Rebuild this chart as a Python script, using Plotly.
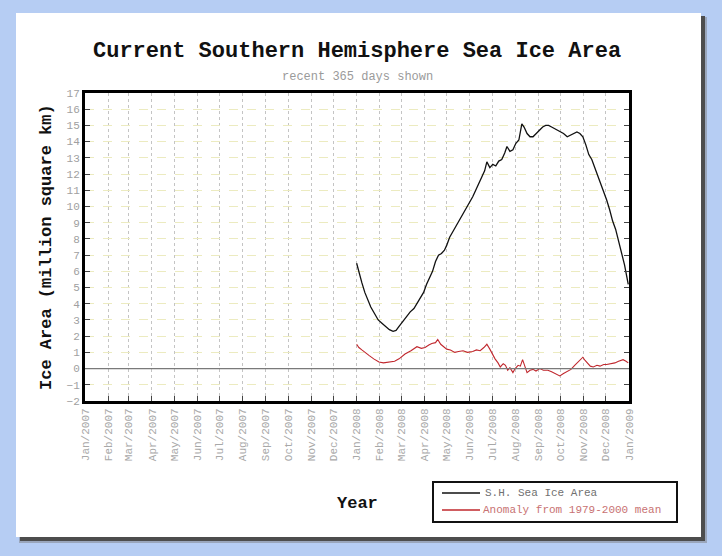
import plotly.graph_objects as go

# ---------------- data ----------------
ice_dates = ["2008-01-01", "2008-01-04", "2008-01-08", "2008-01-12", "2008-01-16", "2008-01-20",
             "2008-01-25", "2008-01-30", "2008-02-04", "2008-02-09", "2008-02-14", "2008-02-19",
             "2008-02-23", "2008-02-27", "2008-03-03", "2008-03-08", "2008-03-13", "2008-03-18",
             "2008-03-22", "2008-03-26", "2008-03-31", "2008-04-04", "2008-04-08", "2008-04-12",
             "2008-04-16", "2008-04-20", "2008-04-24", "2008-04-28", "2008-05-01", "2008-05-05",
             "2008-05-10", "2008-05-15", "2008-05-19", "2008-05-24", "2008-05-28", "2008-06-01",
             "2008-06-05", "2008-06-09", "2008-06-13", "2008-06-17", "2008-06-21", "2008-06-24",
             "2008-06-28", "2008-07-02", "2008-07-06", "2008-07-10", "2008-07-14", "2008-07-18",
             "2008-07-21", "2008-07-25", "2008-07-29", "2008-08-02", "2008-08-06", "2008-08-10",
             "2008-08-13", "2008-08-17", "2008-08-21", "2008-08-25", "2008-08-29", "2008-09-02",
             "2008-09-07", "2008-09-11", "2008-09-15", "2008-09-19", "2008-09-23", "2008-09-27",
             "2008-10-01", "2008-10-05", "2008-10-10", "2008-10-14", "2008-10-18", "2008-10-23",
             "2008-10-27", "2008-10-31", "2008-11-04", "2008-11-08", "2008-11-12", "2008-11-16",
             "2008-11-20", "2008-11-24", "2008-11-28", "2008-12-02", "2008-12-06", "2008-12-10",
             "2008-12-14", "2008-12-18", "2008-12-22", "2008-12-26", "2008-12-31"]
ice_area = [6.5, 5.9, 5.3, 4.7, 4.2, 3.8,
            3.4, 3.0, 2.8, 2.6, 2.4, 2.3,
            2.35, 2.6, 2.9, 3.2, 3.5, 3.7,
            4.0, 4.3, 4.7, 5.2, 5.6, 6.0,
            6.6, 7.0, 7.1, 7.3, 7.6, 8.1,
            8.5, 8.9, 9.2, 9.6, 9.9, 10.2,
            10.6, 11.0, 11.4, 11.7, 12.2, 12.75,
            12.4, 12.6, 12.5, 12.8, 12.9, 13.3,
            13.7, 13.4, 13.5, 13.9, 14.1, 15.1,
            14.9, 14.5, 14.3, 14.3, 14.5, 14.7,
            14.9, 15.0, 15.0, 14.9, 14.8, 14.7,
            14.6, 14.5, 14.3, 14.4, 14.5, 14.6,
            14.5, 14.3, 13.8, 13.2, 12.9, 12.4,
            11.9, 11.4, 11.0, 10.4, 9.8, 9.1,
            8.6, 7.9, 7.2, 6.4, 5.2]

anom_dates = ["2008-01-01", "2008-01-04", "2008-01-08", "2008-01-13", "2008-01-18", "2008-01-24",
              "2008-01-31", "2008-02-06", "2008-02-14", "2008-02-21", "2008-02-27", "2008-03-06",
              "2008-03-14", "2008-03-22", "2008-03-28", "2008-04-02", "2008-04-07", "2008-04-11",
              "2008-04-16", "2008-04-19", "2008-04-23", "2008-04-27", "2008-05-01", "2008-05-06",
              "2008-05-12", "2008-05-17", "2008-05-23", "2008-05-29", "2008-06-05", "2008-06-10",
              "2008-06-15", "2008-06-20", "2008-06-24", "2008-06-28", "2008-07-01", "2008-07-05",
              "2008-07-09", "2008-07-12", "2008-07-16", "2008-07-19", "2008-07-22", "2008-07-25",
              "2008-07-29", "2008-08-01", "2008-08-05", "2008-08-08", "2008-08-11", "2008-08-14",
              "2008-08-17", "2008-08-21", "2008-08-25", "2008-08-29", "2008-09-03", "2008-09-08",
              "2008-09-14", "2008-09-19", "2008-09-24", "2008-09-30", "2008-10-05", "2008-10-10",
              "2008-10-15", "2008-10-20", "2008-10-25", "2008-10-31", "2008-11-03", "2008-11-06",
              "2008-11-10", "2008-11-14", "2008-11-19", "2008-11-23", "2008-11-28", "2008-12-02",
              "2008-12-07", "2008-12-13", "2008-12-18", "2008-12-24", "2008-12-28", "2008-12-31"]
anom_value = [1.5, 1.3, 1.15, 0.95, 0.8, 0.6,
              0.4, 0.35, 0.4, 0.45, 0.6, 0.9,
              1.1, 1.35, 1.25, 1.3, 1.45, 1.55,
              1.6, 1.8, 1.5, 1.35, 1.2, 1.15,
              1.0, 1.05, 1.1, 1.0, 1.05, 1.15,
              1.1, 1.3, 1.5, 1.2, 0.9, 0.6,
              0.35, 0.1, 0.3, 0.2, -0.1, 0.05,
              -0.25, 0.0, 0.2, 0.15, 0.55, 0.2,
              -0.25, -0.1, -0.05, -0.15, 0.0, -0.1,
              -0.1, -0.2, -0.3, -0.45, -0.3, -0.2,
              -0.05, 0.2, 0.45, 0.7, 0.5, 0.35,
              0.15, 0.1, 0.2, 0.15, 0.25, 0.25,
              0.3, 0.35, 0.45, 0.55, 0.45, 0.35]

series_names = ["S.H. Sea Ice Area", "Anomaly from 1979-2000 mean"]

month_ticks = ["2007-%02d-01" % m for m in range(1, 13)] + \
              ["2008-%02d-01" % m for m in range(1, 13)] + ["2009-01-01"]
month_labels = [f"{mn}/{yr}" for yr in (2007, 2008)
                for mn in ["Jan", "Feb", "Mar", "Apr", "May", "Jun",
                           "Jul", "Aug", "Sep", "Oct", "Nov", "Dec"]] + ["Jan/2009"]

# ---------------- layout geometry ----------------
W, H = 722, 556
L, R, T, B = 85, 629, 93, 401          # plot area in pixels
PW, PH = R - L, B - T


def px(x):
    return (x - L) / PW


def py(y):
    return (B - y) / PH


MONO = "Liberation Mono, Courier New, monospace"
ICE_COLOR = "#111111"
ANOM_COLOR = "#c0272d"

fig = go.Figure()
fig.add_trace(go.Scatter(x=ice_dates, y=ice_area, mode="lines",
                         name=series_names[0], showlegend=False,
                         line=dict(color=ICE_COLOR, width=1.3)))
fig.add_trace(go.Scatter(x=anom_dates, y=anom_value, mode="lines",
                         name=series_names[1], showlegend=False,
                         line=dict(color=ANOM_COLOR, width=1.1)))

shapes = [
    # drop shadow of the white panel
    dict(type="rect", xref="paper", yref="paper", x0=px(19), x1=px(707), y0=py(17), y1=py(543),
         fillcolor="#9aa6bb", line=dict(width=0), layer="below"),
    dict(type="rect", xref="paper", yref="paper", x0=px(20), x1=px(705), y0=py(16), y1=py(541),
         fillcolor="#4d4d4d", line=dict(width=0), layer="below"),
    # white panel
    dict(type="rect", xref="paper", yref="paper", x0=px(16), x1=px(701), y0=py(13), y1=py(537),
         fillcolor="white", line=dict(width=0), layer="below"),
    # zero line
    dict(type="line", xref="paper", yref="y", x0=0, x1=1, y0=0, y1=0,
         line=dict(color="#7a7a7a", width=1.2)),
    # legend box
    dict(type="rect", xref="paper", yref="paper", x0=px(433), x1=px(677), y0=py(482), y1=py(522),
         fillcolor="white", line=dict(color="#111111", width=2)),
    dict(type="line", xref="paper", yref="paper", x0=px(442), x1=px(480), y0=py(493), y1=py(493),
         line=dict(color=ICE_COLOR, width=1.5)),
    dict(type="line", xref="paper", yref="paper", x0=px(442), x1=px(480), y0=py(510), y1=py(510),
         line=dict(color=ANOM_COLOR, width=1.5)),
]

annotations = [
    dict(text="<b>Current Southern Hemisphere Sea Ice Area</b>", x=px(357), y=py(52),
         font=dict(family=MONO, size=22, color="#111111")),
    dict(text="recent 365 days shown", x=px(357), y=py(77),
         font=dict(family=MONO, size=12, color="#9a9a9a")),
    dict(text="<b>Year</b>", x=px(357), y=py(503),
         font=dict(family=MONO, size=17, color="#111111")),
    dict(text="<b>Ice Area (million square km)</b>", x=px(46), y=py(247), textangle=-90,
         font=dict(family=MONO, size=17, color="#111111")),
    dict(text=series_names[0], x=px(483), y=py(493), xanchor="left",
         font=dict(family=MONO, size=11, color="#707070")),
    dict(text=series_names[1], x=px(481), y=py(510), xanchor="left",
         font=dict(family=MONO, size=11, color="#c87272")),
]
for a in annotations:
    a.setdefault("xanchor", "center")
    a.update(xref="paper", yref="paper", showarrow=False, yanchor="middle")

fig.update_layout(
    width=W, height=H,
    margin=dict(l=L, r=W - R, t=T, b=H - B, pad=0),
    paper_bgcolor="#b6cdf3",
    plot_bgcolor="white",
    shapes=shapes,
    annotations=annotations,
    showlegend=False,
    xaxis=dict(type="date", range=["2007-01-01", "2009-01-01"],
               tickmode="array", tickvals=month_ticks, ticktext=month_labels,
               tickangle=-90, tickfont=dict(family=MONO, size=11, color="#a8a8a8"),
               showgrid=True, gridcolor="#c4c4c4", griddash="dot", gridwidth=1,
               ticks="inside", ticklen=5, tickcolor="#444444",
               showline=True, linecolor="black", linewidth=3, mirror=True,
               zeroline=False, fixedrange=True),
    yaxis=dict(range=[-2, 17], tick0=0, dtick=1,
               tickfont=dict(family=MONO, size=11, color="#a0a0a0"),
               showgrid=True, gridcolor="#ecebc0", griddash="dash", gridwidth=1,
               ticks="inside", ticklen=5, tickcolor="#444444",
               showline=True, linecolor="black", linewidth=3, mirror="ticks",
               zeroline=False, fixedrange=True),
)

fig.write_html("out.html")
